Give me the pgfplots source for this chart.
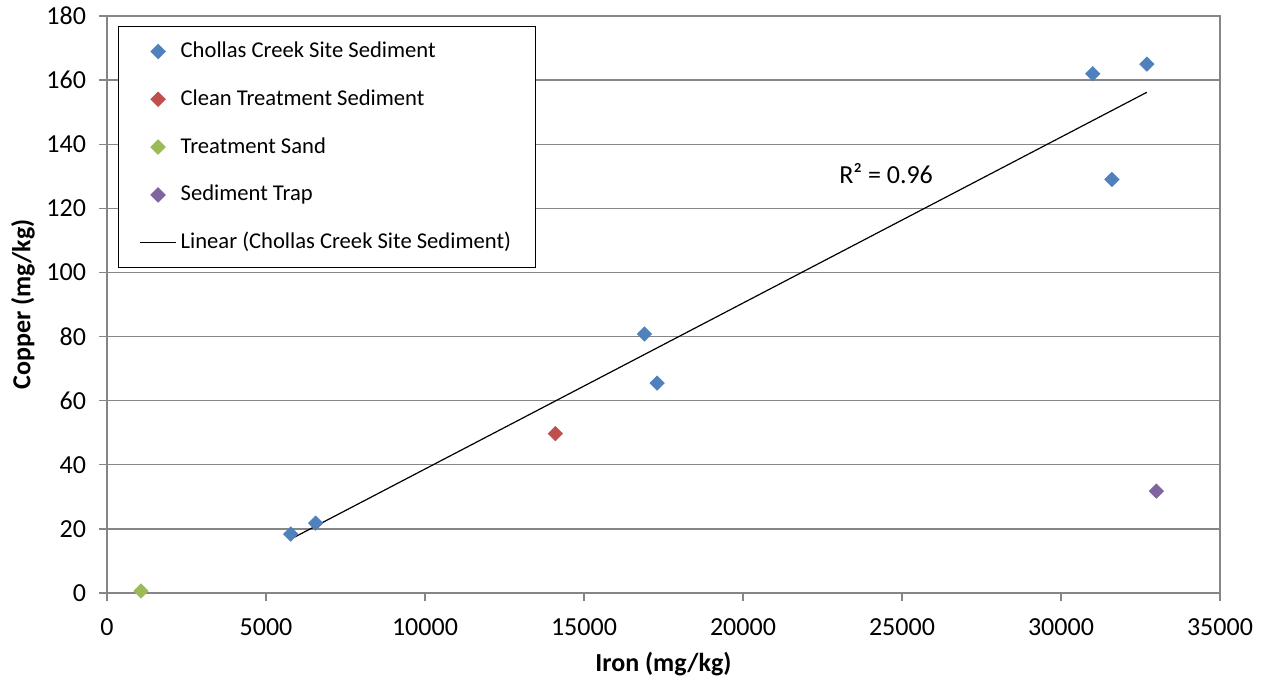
\documentclass[border=0pt]{standalone}
\usepackage{pgfplots}
\pgfplotsset{compat=1.18}
\usepackage{fontspec}
\setmainfont{Carlito}

\definecolor{axgray}{RGB}{134,134,134}
\definecolor{sblue}{RGB}{79,129,189}
\definecolor{sred}{RGB}{192,80,77}
\definecolor{sgreen}{RGB}{155,187,89}
\definecolor{spurple}{RGB}{128,100,162}

\newcommand{\chartfont}{\fontsize{13}{15.6}\selectfont}
\newcommand{\legendfont}{\fontsize{11.3}{13.6}\selectfont}

\begin{document}
\begin{tikzpicture}
\useasboundingbox (-53.5pt,-44pt) rectangle (579pt,296.5pt);
\begin{axis}[
  scale only axis,
  width=556.5pt, height=288.5pt,
  xmin=0, xmax=35000, ymin=0, ymax=180,
  xtick={0,5000,...,35000},
  ytick={0,20,...,180},
  scaled x ticks=false,
  /pgf/number format/set thousands separator={},
  /pgf/number format/assume math mode=true,
  tick label style={font=\chartfont, black},
  xticklabel style={yshift=-5.5pt},
  yticklabel style={xshift=-3pt},
  axis line style={axgray, line width=0.65pt},
  tick style={axgray, line width=0.65pt},
  tick align=outside,
  major tick length=4pt,
  xtick pos=bottom, ytick pos=left,
  ymajorgrids,
  major grid style={axgray, line width=0.65pt},
  xlabel={Iron (mg/kg)},
  ylabel={Copper (mg/kg)},
  every axis x label/.style={at={(axis description cs:0.5,-0.123)}, anchor=center, font=\chartfont\bfseries},
  every axis y label/.style={at={(axis description cs:-0.0755,0.5)}, anchor=center, rotate=90, font=\chartfont\bfseries},
  legend cell align=left,
  legend image code/.code={\draw[mark repeat=2,mark phase=2,#1] plot coordinates {(0pt,0pt) (9pt,0pt) (18pt,0pt)};},
  legend style={
    at={(axis description cs:0.00988,0.9827)}, anchor=north west,
    draw=black, line width=0.5pt, fill=white,
    font=\legendfont,
    inner xsep=10.5pt, inner ysep=4.5pt,
    row sep=7.9pt,
    nodes={inner sep=2pt, text height=9pt, text depth=3pt},
  },
  mark size=2.5pt,
]
% Chollas Creek site samples
\addplot[only marks, mark=square*, mark options={rotate=45, fill=sblue, draw=sblue}]
  coordinates {(5775,18.4) (6560,21.8) (16900,80.8) (17300,65.5) (31000,162) (32700,165) (31600,129)};
\addlegendentry{Chollas Creek Site Sediment}
% Clean treatment sediment
\addplot[only marks, mark=square*, mark options={rotate=45, fill=sred, draw=sred}]
  coordinates {(14100,49.7)};
\addlegendentry{Clean Treatment Sediment}
% Treatment sand
\addplot[only marks, mark=square*, mark options={rotate=45, fill=sgreen, draw=sgreen}]
  coordinates {(1070,0.6)};
\addlegendentry{Treatment Sand}
% Sediment trap
\addplot[only marks, mark=square*, mark options={rotate=45, fill=spurple, draw=spurple}]
  coordinates {(33000,31.8)};
\addlegendentry{Sediment Trap}
% Least-squares fit through the Chollas Creek samples
\addplot[black, line width=0.6pt, mark=none]
  coordinates {(5775,16.8) (32700,156.2)};
\addlegendentry{Linear (Chollas Creek Site Sediment)}
\node[font=\chartfont] at (axis cs:24500,130.8) {R² = 0.96};
\end{axis}
\end{tikzpicture}
\end{document}
